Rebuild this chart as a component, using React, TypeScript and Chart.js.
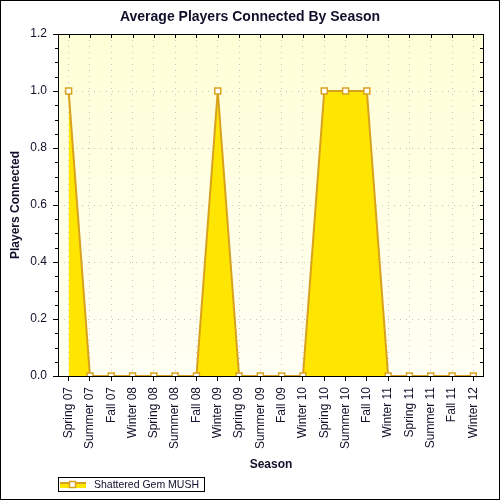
import React, { useEffect, useRef } from "react";
import { Chart, registerables } from "chart.js";

Chart.register(...registerables);

const categories = [
  "Spring 07", "Summer 07", "Fall 07", "Winter 08", "Spring 08", "Summer 08",
  "Fall 08", "Winter 09", "Spring 09", "Summer 09", "Fall 09", "Winter 10",
  "Spring 10", "Summer 10", "Fall 10", "Winter 11", "Spring 11", "Summer 11",
  "Fall 11", "Winter 12",
];
const playersConnected = [1, 0, 0, 0, 0, 0, 0, 1, 0, 0, 0, 0, 1, 1, 1, 0, 0, 0, 0, 0];
const seriesName = "Shattered Gem MUSH";
const chartTitle = "Average Players Connected By Season";
const xTitle = "Season";
const yTitle = "Players Connected";
const yMin = 0;
const yMax = 1.2;
const yMajorStep = 0.2;
const yMinorStep = 0.05;

const FONT = "'Liberation Sans', Arial, sans-serif";
const TEXT = "#10102a";
const FILL = "#ffe600";
const LINE = "#d9a21e";

const framePlugin = {
  id: "frame",
  beforeDraw(chart: any) {
    const { ctx, chartArea: a } = chart;
    ctx.save();
    const g = ctx.createLinearGradient(0, a.top, 0, a.bottom);
    g.addColorStop(0, "#ffffd6");
    g.addColorStop(1, "#fffff4");
    ctx.fillStyle = g;
    ctx.fillRect(a.left, a.top, a.right - a.left, a.bottom - a.top);
    ctx.restore();
  },
  afterDraw(chart: any) {
    const { ctx, chartArea: a, scales } = chart;
    const x = scales.x;
    const y = scales.y;
    ctx.save();
    ctx.strokeStyle = "#000";
    ctx.lineWidth = 1;
    ctx.setLineDash([]);
    // plot frame
    ctx.strokeRect(Math.round(a.left) + 0.5, Math.round(a.top) + 0.5,
      Math.round(a.right - a.left) - 1, Math.round(a.bottom - a.top));
    ctx.beginPath();
    // top inward ticks
    for (let i = 0; i < categories.length; i++) {
      const px = Math.round(x.getPixelForTick(i)) + 0.5;
      ctx.moveTo(px, a.top);
      ctx.lineTo(px, a.top + 4);
    }
    // right inward ticks, left minor ticks
    const n = Math.round((yMax - yMin) / yMinorStep);
    for (let k = 0; k <= n; k++) {
      const v = yMin + k * yMinorStep;
      const py = Math.round(y.getPixelForValue(v)) + 0.5;
      ctx.moveTo(a.right - 4, py);
      ctx.lineTo(a.right, py);
      if (k % Math.round(yMajorStep / yMinorStep) !== 0) {
        ctx.moveTo(a.left - 3, py);
        ctx.lineTo(a.left, py);
      }
    }
    ctx.stroke();

    // title
    ctx.fillStyle = TEXT;
    ctx.font = `bold 14px ${FONT}`;
    ctx.textAlign = "center";
    ctx.textBaseline = "middle";
    ctx.fillText(chartTitle, 250, 17);

    // legend
    const lx = 58, ly = 477, lw = 146, lh = 14;
    ctx.strokeStyle = "#000";
    ctx.strokeRect(lx + 0.5, ly + 0.5, lw, lh);
    ctx.fillStyle = FILL;
    ctx.fillRect(60, 482, 26, 6);
    ctx.strokeStyle = LINE;
    ctx.lineWidth = 2;
    ctx.beginPath();
    ctx.moveTo(60, 483);
    ctx.lineTo(86, 483);
    ctx.stroke();
    ctx.fillStyle = "#fff";
    ctx.lineWidth = 1.5;
    ctx.fillRect(69.5, 481.5, 6, 6);
    ctx.strokeRect(69.5, 481.5, 6, 6);
    ctx.fillStyle = TEXT;
    ctx.font = `10.5px ${FONT}`;
    ctx.textAlign = "left";
    ctx.textBaseline = "middle";
    ctx.fillText(seriesName, 94, 485);

    // outer border
    ctx.strokeStyle = "#000";
    ctx.lineWidth = 1;
    ctx.strokeRect(0.5, 0.5, 499, 499);
    ctx.restore();
  },
};

export default function App() {
  const ref = useRef<HTMLCanvasElement | null>(null);
  useEffect(() => {
    if (!ref.current) return;
    const chart = new Chart(ref.current, {
      type: "line",
      data: {
        labels: categories,
        datasets: [
          {
            label: seriesName,
            data: playersConnected,
            fill: "origin",
            backgroundColor: FILL,
            borderColor: LINE,
            borderWidth: 2,
            tension: 0,
            pointStyle: "rect",
            pointRadius: 4.2,
            pointBackgroundColor: "#ffffff",
            pointBorderColor: LINE,
            pointBorderWidth: 1.5,
            clip: 0,
          } as any,
        ],
      },
      options: {
        responsive: false,
        animation: false,
        devicePixelRatio: 1,
        layout: { padding: { top: 34, right: 16, left: 0, bottom: 0 } },
        plugins: {
          legend: { display: false },
          title: { display: false },
          tooltip: { enabled: false },
        },
        scales: {
          x: {
            type: "category",
            offset: true,
            grid: {
              display: true,
              drawOnChartArea: true,
              color: "#c4c4c4",
              lineWidth: 1,
              tickColor: "#000",
              tickLength: 5,
              tickWidth: 1,
            },
            border: { display: false, dash: [1, 5] },
            ticks: {
              autoSkip: false,
              minRotation: 90,
              maxRotation: 90,
              padding: 6,
              color: TEXT,
              font: { family: FONT, size: 12 },
            },
            title: {
              display: true,
              text: xTitle,
              color: TEXT,
              font: { family: FONT, size: 12, weight: "bold" },
              padding: { top: 0, bottom: 28 },
            },
            afterFit(scale: any) {
              scale.height = 124;
            },
          },
          y: {
            min: yMin,
            max: yMax,
            grid: {
              display: true,
              drawOnChartArea: true,
              color: "#c4c4c4",
              lineWidth: 1,
              tickColor: "#000",
              tickLength: 5,
              tickWidth: 1,
            },
            border: { display: false, dash: [1, 5] },
            ticks: {
              stepSize: yMajorStep,
              padding: 6,
              color: TEXT,
              font: { family: FONT, size: 12 },
              callback: (v: any) => Number(v).toFixed(1),
            },
            title: {
              display: true,
              text: yTitle,
              color: TEXT,
              font: { family: FONT, size: 12, weight: "bold" },
              padding: { top: 8, bottom: 0 },
            },
            afterFit(scale: any) {
              scale.width = 58;
            },
          },
        },
      },
      plugins: [framePlugin],
    } as any);
    return () => chart.destroy();
  }, []);
  return (
    <div style={{ position: "fixed", left: 0, top: 0, width: 500, height: 500, background: "#fff" }}>
      <canvas ref={ref} width={500} height={500} style={{ display: "block" }} />
    </div>
  );
}
